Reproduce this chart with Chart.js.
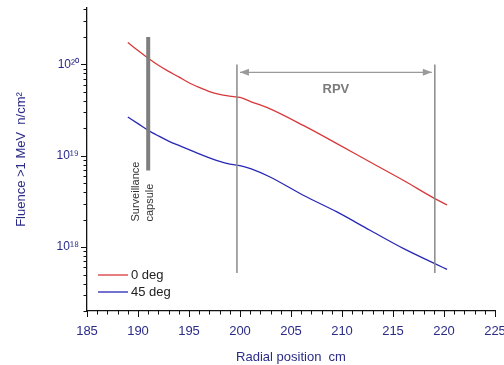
<!DOCTYPE html>
<html>
<head>
<meta charset="utf-8">
<script src="https://cdn.jsdelivr.net/npm/chart.js@4.4.1/dist/chart.umd.min.js"></script>
<style>
  html, body { margin: 0; padding: 0; background: #fff; }
  #wrap { width: 504px; height: 365px; }
</style>
</head>
<body>
<div id="wrap"><canvas id="chart"></canvas></div>
<script>
// radial position (cm) and fluence > 1 MeV (n/cm2)
const radius    = [189, 190, 191, 192, 193, 194, 195, 196, 197, 198, 199, 200, 201.1, 202.9, 206.2, 209.5, 212.75, 216, 219.1, 220.3];
const fluence0  = [1.74e20, 1.42e20, 1.17e20, 9.8e19, 8.4e19, 7.3e19, 6.3e19, 5.6e19, 5.05e19, 4.7e19, 4.5e19, 4.35e19, 3.9e19, 3.28e19, 2.15e19, 1.36e19, 8.55e18, 5.4e18, 3.4e18, 2.9e18];
const fluence45 = [2.66e19, 2.25e19, 1.9e19, 1.65e19, 1.45e19, 1.3e19, 1.17e19, 1.05e19, 9.5e18, 8.7e18, 8.1e18, 7.8e18, 7.2e18, 5.9e18, 3.7e18, 2.43e18, 1.53e18, 9.7e17, 6.6e17, 5.7e17];
const seriesLabels = ['0 deg', '45 deg'];
const seriesColors = ['#d8383a', '#2828b4'];

const xMin = 185, xMax = 225, xStep = 5;
const yMin = 2e17, yMax = 4.15e20;
const yMajorTicks  = [1e18, 1e19, 1e20];
const yMajorLabels = ['10¹⁸', '10¹⁹', '10²⁰'];

// annotations (data coordinates)
const capsuleX = 191, capsuleTop = 2.0e20, capsuleBottom = 6.9e18;
const rpvStart = 199.7, rpvEnd = 219.1, rpvLineTop = 1e20, rpvLineBottom = 5.2e17, rpvArrowY = 8.2e19;

const axisBlue = '#2b2b88';
const font = 'Liberation Sans, Arial, sans-serif';

// all decade subdivisions for the log axis
const yTickValues = [];
for (let e = 17; e <= 20; e++) {
  for (let m = 1; m <= 9; m++) {
    const v = m * Math.pow(10, e);
    if (v >= yMin * 0.999 && v <= yMax) yTickValues.push(v);
  }
}

function isMajorY(v) {
  return yMajorTicks.some(t => Math.abs(v / t - 1) < 1e-6);
}

const tickMarks = {
  id: 'tickMarks',
  afterDraw(chart) {
    const ctx = chart.ctx;
    const x = chart.scales.x, y = chart.scales.y;
    const area = chart.chartArea;
    ctx.save();
    ctx.strokeStyle = '#111';
    ctx.lineWidth = 1;
    ctx.beginPath();
    for (let v = xMin; v <= xMax; v++) {
      const px = Math.round(x.getPixelForValue(v)) + 0.5;
      const len = (v % xStep === 0) ? 6 : 3.5;
      ctx.moveTo(px, area.bottom);
      ctx.lineTo(px, area.bottom + len);
    }
    yTickValues.forEach(v => {
      const py = Math.round(y.getPixelForValue(v)) + 0.5;
      const len = isMajorY(v) ? 6 : 3.5;
      ctx.moveTo(area.left, py);
      ctx.lineTo(area.left - len, py);
    });
    ctx.stroke();
    ctx.restore();
  }
};

const annotations = {
  id: 'annotations',
  afterDatasetsDraw(chart) {
    const ctx = chart.ctx;
    const x = chart.scales.x, y = chart.scales.y;
    ctx.save();

    // surveillance capsule bar
    const cx = x.getPixelForValue(capsuleX);
    ctx.strokeStyle = '#7f7f7f';
    ctx.lineWidth = 4;
    ctx.beginPath();
    ctx.moveTo(cx, y.getPixelForValue(capsuleTop));
    ctx.lineTo(cx, y.getPixelForValue(capsuleBottom));
    ctx.stroke();

    ctx.fillStyle = '#333';
    ctx.font = '11px ' + font;
    ctx.textAlign = 'left';
    ctx.textBaseline = 'middle';
    const textBottom = y.getPixelForValue(capsuleBottom) + 51;
    ctx.save();
    ctx.translate(cx - 12, textBottom);
    ctx.rotate(-Math.PI / 2);
    ctx.fillText('Surveillance', 0, 0);
    ctx.restore();
    ctx.save();
    ctx.translate(cx + 2, textBottom);
    ctx.rotate(-Math.PI / 2);
    ctx.fillText('capsule', 0, 0);
    ctx.restore();

    // RPV boundaries
    ctx.strokeStyle = '#8a8a8a';
    ctx.lineWidth = 1.5;
    ctx.beginPath();
    [rpvStart, rpvEnd].forEach(v => {
      const px = x.getPixelForValue(v);
      ctx.moveTo(px, y.getPixelForValue(rpvLineTop));
      ctx.lineTo(px, y.getPixelForValue(rpvLineBottom));
    });
    ctx.stroke();

    // double arrow
    const ay = y.getPixelForValue(rpvArrowY);
    const ax1 = x.getPixelForValue(rpvStart) + 3;
    const ax2 = x.getPixelForValue(rpvEnd) - 3;
    ctx.strokeStyle = '#9a9a9a';
    ctx.fillStyle = '#9a9a9a';
    ctx.lineWidth = 1.2;
    ctx.beginPath();
    ctx.moveTo(ax1, ay);
    ctx.lineTo(ax2, ay);
    ctx.stroke();
    ctx.beginPath();
    ctx.moveTo(ax1, ay);
    ctx.lineTo(ax1 + 9, ay - 3.5);
    ctx.lineTo(ax1 + 9, ay + 3.5);
    ctx.closePath();
    ctx.moveTo(ax2, ay);
    ctx.lineTo(ax2 - 9, ay - 3.5);
    ctx.lineTo(ax2 - 9, ay + 3.5);
    ctx.closePath();
    ctx.fill();

    ctx.fillStyle = '#7a7a7a';
    ctx.font = 'bold 13px ' + font;
    ctx.textAlign = 'center';
    ctx.textBaseline = 'middle';
    ctx.fillText('RPV', (ax1 + ax2) / 2, ay + 17);

    // legend, bottom-left inside the plot
    const area = chart.chartArea;
    ctx.font = '13px ' + font;
    ctx.textAlign = 'left';
    chart.data.datasets.forEach((ds, i) => {
      const ly = area.bottom - 36 + i * 17;
      ctx.strokeStyle = ds.borderColor;
      ctx.lineWidth = 1.3;
      ctx.beginPath();
      ctx.moveTo(area.left + 11, ly);
      ctx.lineTo(area.left + 41, ly);
      ctx.stroke();
      ctx.fillStyle = '#222';
      ctx.fillText(ds.label, area.left + 44, ly);
    });

    ctx.restore();
  }
};

function toPoints(values) {
  return radius.map((r, i) => ({ x: r, y: values[i] }));
}

new Chart(document.getElementById('chart'), {
  type: 'line',
  data: {
    datasets: [
      { label: seriesLabels[0], data: toPoints(fluence0), borderColor: seriesColors[0], borderWidth: 1.3, pointRadius: 0, cubicInterpolationMode: 'monotone' },
      { label: seriesLabels[1], data: toPoints(fluence45), borderColor: seriesColors[1], borderWidth: 1.3, pointRadius: 0, cubicInterpolationMode: 'monotone' }
    ]
  },
  options: {
    responsive: true,
    maintainAspectRatio: false,
    animation: false,
    layout: { padding: { top: 8, right: 9, left: 0, bottom: 0 } },
    plugins: { legend: { display: false }, tooltip: { enabled: false } },
    scales: {
      x: {
        type: 'linear',
        min: xMin,
        max: xMax,
        grid: { display: false, drawTicks: false },
        border: { display: true, color: '#111', width: 1.3 },
        ticks: { stepSize: xStep, padding: 13, color: axisBlue, font: { family: font, size: 13 } },
        title: { display: true, text: 'Radial position  cm', color: axisBlue, padding: { top: 2, bottom: 0 }, font: { family: font, size: 13 } },
        afterFit(scale) {
          scale.height = 54;
          scale.paddingLeft = 0;
          scale.paddingRight = 0;
        }
      },
      y: {
        type: 'logarithmic',
        min: yMin,
        max: yMax,
        grid: { display: false, drawTicks: false },
        border: { display: true, color: '#111', width: 1.3 },
        afterBuildTicks(scale) { scale.ticks = yTickValues.map(v => ({ value: v })); },
        ticks: {
          autoSkip: false,
          padding: 8,
          color: axisBlue,
          font: { family: font, size: 12 },
          callback(value) {
            const k = yMajorTicks.findIndex(t => Math.abs(value / t - 1) < 1e-6);
            return k >= 0 ? yMajorLabels[k] : '';
          }
        },
        title: { display: true, text: 'Fluence >1 MeV  n/cm²', color: axisBlue, padding: { top: 14, bottom: 0 }, font: { family: font, size: 13 } },
        afterFit(scale) {
          scale.width = 87;
          scale.paddingTop = 0;
          scale.paddingBottom = 0;
        }
      }
    }
  },
  plugins: [tickMarks, annotations]
});
</script>
</body>
</html>
